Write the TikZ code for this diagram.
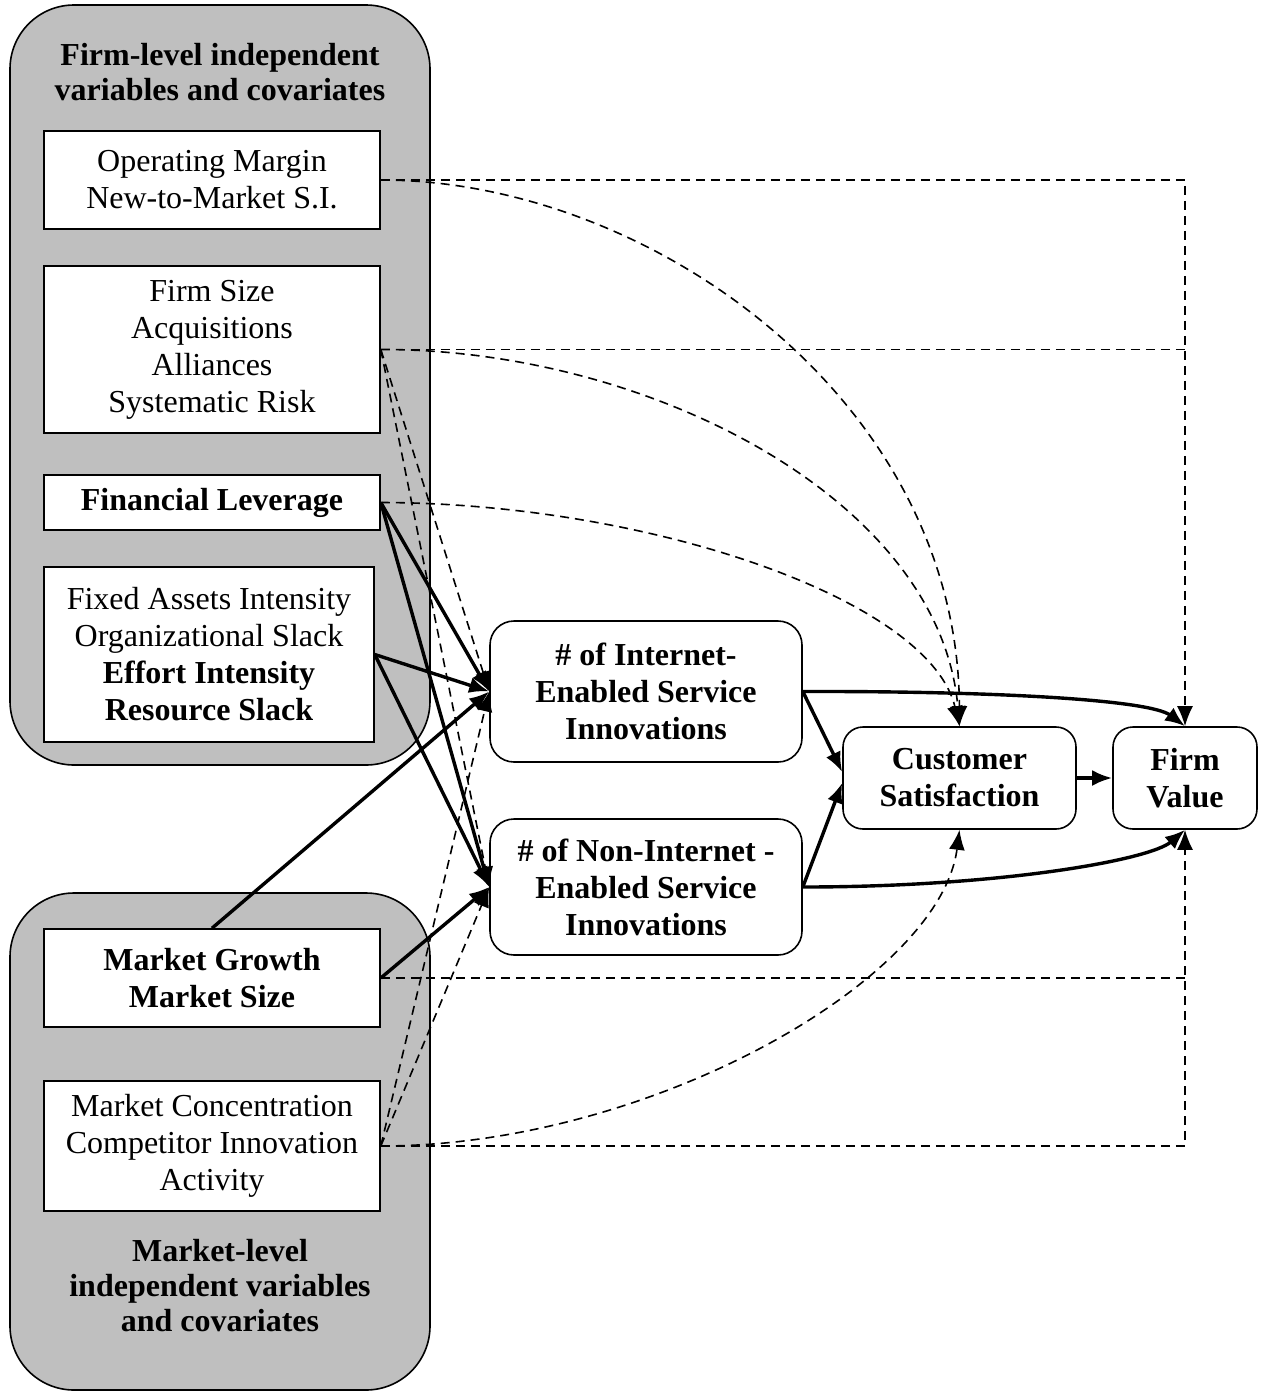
\documentclass[tikz,border=0pt]{standalone}
\usepackage{fontspec}
\setmainfont{Liberation Serif}
\usepackage{tikz}
\usetikzlibrary{arrows.meta,positioning}
\definecolor{grpgray}{gray}{0.75}

\begin{document}
\begin{tikzpicture}[x=0.5pt, y=-0.5pt,
      grp/.style={draw, line width=0.8pt, fill=grpgray, rounded corners=32pt, inner sep=0pt},
      ttl/.style={font=\fontsize{16}{17.5}\selectfont\bfseries, align=center, inner sep=0pt},
      var/.style={draw, fill=white, line width=0.8pt, minimum width=168pt,
                  font=\fontsize{16}{18.5}\selectfont, align=center, inner sep=0pt},
      dv/.style={draw, fill=white, line width=0.8pt, rounded corners=12pt,
                 font=\fontsize{16}{18.5}\selectfont\bfseries, align=center, inner sep=0pt},
      sol/.style={-{Latex[length=10pt,width=8pt]}, line width=1.7pt},
      dsh/.style={dash pattern=on 4.5pt off 3pt, line width=0.8pt},
      dar/.style={dsh, -{Latex[length=10pt,width=8pt]}}
  ]
    \useasboundingbox (0,0) rectangle (1266,1393);
    \node[grp, minimum width=210pt, minimum height=380pt] (firm) at (220,385) {};
    \node[grp, minimum width=210pt, minimum height=248.5pt] (mkt) at (220,1141.5) {};
    \node[ttl] (firmlbl) at (220,72) {Firm-level independent\\ variables and covariates};
    \node[ttl] (mktlbl) at (220,1286) {Market-level\\ independent variables\\ and covariates};

    \node[var, minimum height=49pt] (om) at (212,180) {Operating Margin\\ New-to-Market S.I.};
    \node[var, minimum height=83.5pt] (fs) at (212,349.5) {Firm Size\\ Acquisitions\\ Alliances\\ Systematic Risk};
    \node[var, minimum height=27.5pt, font=\fontsize{16}{18.5}\selectfont\bfseries] (fl) at (212,502.5) {Financial Leverage};
    \node[var, minimum width=165pt, minimum height=87.5pt] (fa) at (209,654.5)
         {Fixed Assets Intensity\\ Organizational Slack\\ \textbf{Effort Intensity}\\ \textbf{Resource Slack}};
    \node[var, minimum height=49pt, font=\fontsize{16}{18.5}\selectfont\bfseries] (mg) at (212,978) {Market Growth\\ Market Size};
    \node[var, minimum height=65pt] (mc) at (212,1146) {Market Concentration\\ Competitor Innovation\\ Activity};

    \node[dv, minimum width=156pt, minimum height=70.5pt] (ies) at (646,691.5) {\# of Internet-\\ Enabled Service\\ Innovations};
    \node[dv, minimum width=156pt, minimum height=68pt] (nies) at (646,887) {\# of Non-Internet -\\ Enabled Service\\ Innovations};
    \node[dv, minimum width=116.5pt, minimum height=51pt, rounded corners=10pt] (cs) at (959.5,778) {Customer\\ Satisfaction};
    \node[dv, minimum width=72pt, minimum height=51pt, rounded corners=10pt] (fv) at (1185,778) {Firm\\ Value};

    \draw[dar] (om.east) -| (fv.north);
    \draw[dsh] (fs.east) -- (fs.east -| fv.north);
    \draw[dsh] (mg.east) -- (mg.east -| fv.south);
    \draw[dar] (mc.east) -| (fv.south);
    \draw[dar] (om.east) .. controls (650,180) and (958,400) .. (cs.north);
    \draw[dar] (fs.east) .. controls (650,349) and (940,500) .. (cs.north);
    \draw[dar] (fl.east) .. controls (650,503) and (930,600) .. (cs.north);
    \draw[dar] (mc.east) .. controls (650,1146) and (940,980) .. (cs.south);
    \draw[dar] (fs.east) -- (ies.west); \draw[dar] (fs.east) -- (nies.west);
    \draw[dar] (mc.east) -- (ies.west); \draw[dar] (mc.east) -- (nies.west);

    \draw[sol] (fl.east) -- (ies.west); \draw[sol] (fl.east) -- (nies.west);
    \draw[sol] (fa.east) -- (ies.west); \draw[sol] (fa.east) -- (nies.west);
    \draw[sol] (mg.north) -- (ies.west); \draw[sol] (mg.east) -- (nies.west);
    \draw[sol] (ies.east) -- ([yshift=3pt]cs.west);
    \draw[sol] (nies.east) -- ([yshift=-2.5pt]cs.west);
    \draw[sol] (ies.east) .. controls (1000,691) and (1150,700) .. (fv.north);
    \draw[sol] (nies.east) .. controls (1000,887) and (1150,860) .. (fv.south);
    \draw[sol] (cs.east) -- (fv.west);
  \end{tikzpicture}
\end{document}
